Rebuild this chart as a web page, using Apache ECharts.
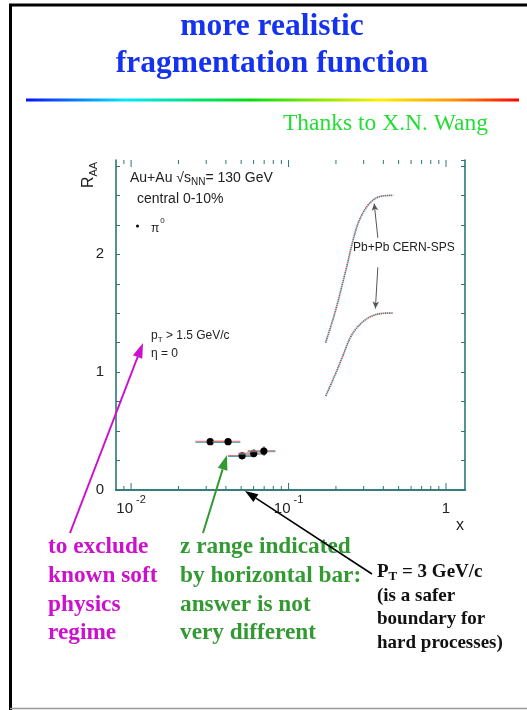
<!DOCTYPE html>
<html>
<head>
<meta charset="utf-8">
<script src="https://cdn.jsdelivr.net/npm/echarts@6/dist/echarts.min.js"></script>
<style>
  html, body { margin: 0; padding: 0; background: #fff; }
  #chart { width: 527px; height: 710px; }
</style>
</head>
<body>
<div id="chart"></div>
<script>
// pi0 R_AA at RHIC (Au+Au, 130 GeV, central 0-10%) versus x
const piX      = [0.0318, 0.0413, 0.0507, 0.0601, 0.0697];
const piR      = [0.41, 0.41, 0.29, 0.31, 0.33];
const piXLow   = [0.0256, 0.0330, 0.0413, 0.0480, 0.0550];
const piXHigh  = [0.0413, 0.0494, 0.0601, 0.0720, 0.0826];
const piRErr   = [0.025, 0.025, 0.03, 0.035, 0.04];

// Pb+Pb CERN-SPS bands (upper and lower edge)
const spsUpperX = [0.172, 0.199, 0.231, 0.267, 0.295, 0.333, 0.385, 0.462];
const spsUpperR = [1.25, 1.525, 1.864, 2.203, 2.345, 2.443, 2.492, 2.50];
const spsLowerX = [0.172, 0.195, 0.220, 0.248, 0.281, 0.324, 0.385, 0.462];
const spsLowerR = [0.797, 0.960, 1.130, 1.299, 1.398, 1.464, 1.497, 1.502];

// axis ticks and labels
const xMajorTicks = [0.01, 0.1, 1];
const xMinorTicks = [0.009, 0.02, 0.03, 0.04, 0.05, 0.06, 0.07, 0.08, 0.09,
                     0.2, 0.3, 0.4, 0.5, 0.6, 0.7, 0.8, 0.9];
const xTickBase = ['10', '10', '1'];
const xTickExp  = ['-2', '-1', ''];
const yTickLabels = ['0', '1', '2'];

const X_MIN = 0.00802, X_MAX = 1.32;
const Y_MIN = 0, Y_MAX = 2.8;
const AXIS = '#2b7676';
const SANS = '"Liberation Sans", Arial, sans-serif';
const SERIF = '"Liberation Serif", "Times New Roman", serif';

const chart = echarts.init(document.getElementById('chart'), null, { renderer: 'canvas' });

function tickRenderer(len) {
  return function (params, api) {
    const v = api.value(0);
    const b = api.coord([v, Y_MIN]);
    const t = api.coord([v, Y_MAX]);
    return {
      type: 'group',
      children: [
        { type: 'line', shape: { x1: b[0], y1: b[1], x2: b[0], y2: b[1] - len }, style: { stroke: AXIS, lineWidth: 1 } },
        { type: 'line', shape: { x1: t[0], y1: t[1], x2: t[0], y2: t[1] + len }, style: { stroke: AXIS, lineWidth: 1 } }
      ]
    };
  };
}

function errRenderer(params, api) {
  const x = api.value(0), y = api.value(1);
  const c = api.coord([x, y]);
  const l = api.coord([api.value(2), y]);
  const r = api.coord([api.value(3), y]);
  const lo = api.coord([x, y - api.value(4)]);
  const hi = api.coord([x, y + api.value(4)]);
  return {
    type: 'group',
    children: [
      { type: 'line', shape: { x1: l[0], y1: c[1] + 0.6, x2: r[0], y2: c[1] + 0.6 }, style: { stroke: '#3a9e9e', lineWidth: 1 } },
      { type: 'line', shape: { x1: l[0], y1: c[1] - 0.4, x2: r[0], y2: c[1] - 0.4 }, style: { stroke: '#e07070', lineWidth: 1 } },
      { type: 'line', shape: { x1: c[0] + 0.5, y1: hi[1], x2: c[0] + 0.5, y2: lo[1] }, style: { stroke: '#3a9e9e', lineWidth: 1 } },
      { type: 'line', shape: { x1: c[0] - 0.5, y1: hi[1], x2: c[0] - 0.5, y2: lo[1] }, style: { stroke: '#e07070', lineWidth: 1 } },
      { type: 'circle', shape: { cx: c[0], cy: c[1], r: 3.6 }, style: { fill: '#000' } }
    ]
  };
}

function arrow(x1, y1, x2, y2, color, width, headLen, headW) {
  const a = Math.atan2(y2 - y1, x2 - x1);
  const bx = x2 - headLen * Math.cos(a), by = y2 - headLen * Math.sin(a);
  const nx = -Math.sin(a) * headW / 2, ny = Math.cos(a) * headW / 2;
  return [
    { type: 'line', z: 50, shape: { x1: x1, y1: y1, x2: bx, y2: by }, style: { stroke: color, lineWidth: width } },
    { type: 'polygon', z: 50, shape: { points: [[x2, y2], [bx + nx, by + ny], [bx - nx, by - ny]] }, style: { fill: color } }
  ];
}

function nearIndex(arr, v, log) {
  for (let i = 0; i < arr.length; i++) {
    const d = log ? Math.abs(Math.log10(v) - Math.log10(arr[i])) : Math.abs(v - arr[i]);
    if (d < 1e-6) return i;
  }
  return -1;
}

const curveStyle = (color, offset) => ({ color: color, width: 1.7, type: [1.5, 2.5], dashOffset: offset });

const option = {
  animation: false,
  backgroundColor: '#fff',
  grid: { left: 116, top: 160, right: 62, bottom: 220, containLabel: false },
  xAxis: [
    {
      type: 'log', logBase: 10, min: X_MIN, max: X_MAX,
      axisLine: { show: true, lineStyle: { color: AXIS, width: 1.6 } },
      axisTick: { show: false },
      minorTick: { show: false },
      splitLine: { show: false },
      axisLabel: {
        margin: 4,
        showMinLabel: false, showMaxLabel: false,
        formatter: function (v) {
          const i = nearIndex(xMajorTicks, v, true);
          if (i < 0) return '';
          return '{b|' + xTickBase[i] + '}' + (xTickExp[i] ? '{s|' + xTickExp[i] + '}' : '');
        },
        rich: {
          b: { fontFamily: SANS, fontSize: 15, color: '#222', lineHeight: 22, verticalAlign: 'bottom' },
          s: { fontFamily: SANS, fontSize: 11, color: '#222', lineHeight: 12, verticalAlign: 'top', padding: [0, 0, 0, 3] }
        }
      }
    },
    {
      type: 'log', logBase: 10, min: X_MIN, max: X_MAX, position: 'top',
      axisLine: { show: true, lineStyle: { color: AXIS, width: 1.6 } },
      axisTick: { show: false }, axisLabel: { show: false }, splitLine: { show: false }
    }
  ],
  yAxis: [
    {
      type: 'value', min: Y_MIN, max: Y_MAX, interval: 0.25,
      axisLine: { show: true, lineStyle: { color: AXIS, width: 1.6 } },
      axisTick: { show: true, inside: true, length: 4, lineStyle: { color: AXIS, width: 1 } },
      splitLine: { show: false },
      axisLabel: {
        margin: 12, color: '#222', fontFamily: SANS, fontSize: 15,
        showMaxLabel: false,
        formatter: function (v) {
          const i = nearIndex([0, 1, 2], v, false);
          return i < 0 ? '' : yTickLabels[i];
        }
      }
    },
    {
      type: 'value', min: Y_MIN, max: Y_MAX, interval: 0.25, position: 'right',
      axisLine: { show: true, lineStyle: { color: AXIS, width: 1.6 } },
      axisTick: { show: true, inside: true, length: 4, lineStyle: { color: AXIS, width: 1 } },
      axisLabel: { show: false }, splitLine: { show: false }
    }
  ],
  series: [
    { type: 'custom', name: 'major ticks', renderItem: tickRenderer(7), clip: false, silent: true,
      encode: { x: 0, y: 1 }, data: xMajorTicks.map(v => [v, 0]) },
    { type: 'custom', name: 'minor ticks', renderItem: tickRenderer(4), clip: false, silent: true,
      encode: { x: 0, y: 1 }, data: xMinorTicks.map(v => [v, 0]) },
    { type: 'line', name: 'SPS upper', showSymbol: false, smooth: 0.35, silent: true,
      lineStyle: curveStyle('#2f8c8c', 0), data: spsUpperX.map((x, i) => [x, spsUpperR[i]]) },
    { type: 'line', name: 'SPS upper r', showSymbol: false, smooth: 0.35, silent: true,
      lineStyle: curveStyle('#d05a5a', 2), data: spsUpperX.map((x, i) => [x, spsUpperR[i]]),
      markLine: {
        silent: true, symbol: ['none', 'arrow'], symbolSize: [5, 7], label: { show: false },
        lineStyle: { color: '#555', width: 1, type: 'solid' },
        data: [
          [{ coord: [0.369, 2.14] }, { coord: [0.350, 2.43] }],
          [{ coord: [0.369, 1.89] }, { coord: [0.356, 1.54] }]
        ]
      } },
    { type: 'line', name: 'SPS lower', showSymbol: false, smooth: 0.35, silent: true,
      lineStyle: curveStyle('#2f8c8c', 0), data: spsLowerX.map((x, i) => [x, spsLowerR[i]]) },
    { type: 'line', name: 'SPS lower r', showSymbol: false, smooth: 0.35, silent: true,
      lineStyle: curveStyle('#d05a5a', 2), data: spsLowerX.map((x, i) => [x, spsLowerR[i]]) },
    { type: 'custom', name: 'pi0', renderItem: errRenderer, clip: false,
      encode: { x: 0, y: 1 },
      data: piX.map((x, i) => [x, piR[i], piXLow[i], piXHigh[i], piRErr[i]]) }
  ],
  graphic: [
    // slide frame
    { type: 'line', shape: { x1: 9, y1: 5, x2: 527, y2: 5 }, style: { stroke: '#000', lineWidth: 3 } },
    { type: 'line', shape: { x1: 10.5, y1: 4, x2: 10.5, y2: 710 }, style: { stroke: '#000', lineWidth: 3 } },
    { type: 'line', shape: { x1: 10, y1: 708.5, x2: 527, y2: 708.5 }, style: { stroke: '#999', lineWidth: 1.5 } },
    // title
    { type: 'text', style: { text: 'more realistic', x: 272, y: 27, align: 'center', verticalAlign: 'middle',
      font: 'bold 31.5px ' + SERIF, fill: '#1533ee' } },
    { type: 'text', style: { text: 'fragmentation function', x: 272, y: 64, align: 'center', verticalAlign: 'middle',
      font: 'bold 31.5px ' + SERIF, fill: '#1533ee' } },
    // rainbow rule
    { type: 'rect', shape: { x: 26, y: 98.5, width: 493, height: 3 },
      style: { fill: new echarts.graphic.LinearGradient(0, 0, 1, 0, [
        { offset: 0, color: '#0a10ff' }, { offset: 0.2, color: '#00e8ff' },
        { offset: 0.45, color: '#00dd10' }, { offset: 0.6, color: '#90e800' },
        { offset: 0.72, color: '#ffee00' }, { offset: 0.86, color: '#ff9a00' },
        { offset: 1, color: '#ff0000' }]) } },
    { type: 'text', style: { text: 'Thanks to X.N. Wang', x: 488, y: 124, align: 'right', verticalAlign: 'middle',
      font: '23.5px ' + SERIF, fill: '#22dd33' } },
    // in-plot annotations
    { type: 'text', style: { text: '{a|Au+Au \u221As}{n|NN}{a|= 130 GeV}', x: 130, y: 179, align: 'left', verticalAlign: 'middle',
      rich: { a: { fontFamily: SANS, fontSize: 14, fill: '#222', lineHeight: 16, verticalAlign: 'top' },
              n: { fontFamily: SANS, fontSize: 10, fill: '#222', lineHeight: 12, verticalAlign: 'bottom', padding: [8, 0, 0, 0] } } } },
    { type: 'text', style: { text: 'central 0-10%', x: 137, y: 199, align: 'left', verticalAlign: 'middle',
      font: '14px ' + SANS, fill: '#222' } },
    { type: 'circle', shape: { cx: 137.5, cy: 226, r: 1.6 }, style: { fill: '#111' } },
    { type: 'text', style: { text: '{a|\u03C0}{s|0}', x: 151, y: 226, align: 'left', verticalAlign: 'middle',
      rich: { a: { fontFamily: SANS, fontSize: 12, fill: '#222', lineHeight: 18, verticalAlign: 'bottom' },
              s: { fontFamily: SANS, fontSize: 8, fill: '#222', lineHeight: 9, verticalAlign: 'top', padding: [0, 0, 0, 1] } } } },
    { type: 'text', style: { text: '{a|p}{t|T}{a| > 1.5 GeV/c}', x: 151, y: 337, align: 'left', verticalAlign: 'middle',
      rich: { a: { fontFamily: SANS, fontSize: 12, fill: '#222', lineHeight: 14, verticalAlign: 'top' },
              t: { fontFamily: SANS, fontSize: 8, fill: '#222', lineHeight: 9, verticalAlign: 'bottom', padding: [7, 0, 0, 0] } } } },
    { type: 'text', style: { text: '\u03B7 = 0', x: 151, y: 354, align: 'left', verticalAlign: 'middle',
      font: '12px ' + SANS, fill: '#222' } },
    { type: 'text', style: { text: 'Pb+Pb CERN-SPS', x: 353, y: 248, align: 'left', verticalAlign: 'middle',
      font: '12px ' + SANS, fill: '#222' } },
    { type: 'text', x: 90, y: 175, rotation: Math.PI / 2,
      style: { text: '{a|R}{t|AA}', x: 0, y: 0, align: 'center', verticalAlign: 'middle',
      rich: { a: { fontFamily: SANS, fontSize: 16, fill: '#222', lineHeight: 18, verticalAlign: 'top' },
              t: { fontFamily: SANS, fontSize: 11, fill: '#222', lineHeight: 12, verticalAlign: 'bottom', padding: [10, 0, 0, 0] } } } },
    { type: 'text', style: { text: 'x', x: 460, y: 526, align: 'center', verticalAlign: 'middle',
      font: '16px ' + SANS, fill: '#222' } },
    // explanatory notes
    { type: 'text', style: { text: 'to exclude\nknown soft\nphysics\nregime', x: 48, y: 533, align: 'left', verticalAlign: 'top',
      font: 'bold 23.3px ' + SERIF, fill: '#cc11cc', lineHeight: 28.7 } },
    { type: 'text', style: { text: 'z range indicated\nby horizontal bar:\nanswer is not\nvery different', x: 180, y: 533, align: 'left', verticalAlign: 'top',
      font: 'bold 23.3px ' + SERIF, fill: '#339933', lineHeight: 28.7 } },
    { type: 'text', style: { text: '{a|P}{t|T}{a| = 3 GeV/c}', x: 377, y: 573, align: 'left', verticalAlign: 'middle',
      rich: { a: { fontFamily: SERIF, fontWeight: 'bold', fontSize: 19, fill: '#111', lineHeight: 20, verticalAlign: 'top' },
              t: { fontFamily: SERIF, fontWeight: 'bold', fontSize: 13, fill: '#111', lineHeight: 13, verticalAlign: 'bottom', padding: [10, 0, 0, 0] } } } },
    { type: 'text', style: { text: '(is a safer\nboundary for\nhard processes)', x: 377, y: 584, align: 'left', verticalAlign: 'top',
      font: 'bold 19px ' + SERIF, fill: '#111', lineHeight: 23.5 } }
  ]
    .concat(arrow(70, 533, 143, 343, '#cc11cc', 2, 15, 10))
    .concat(arrow(203, 533, 227, 455, '#339933', 2, 15, 10))
    .concat(arrow(372, 574, 245, 491, '#000', 1.6, 13, 9))
};

chart.setOption(option);
</script>
</body>
</html>
